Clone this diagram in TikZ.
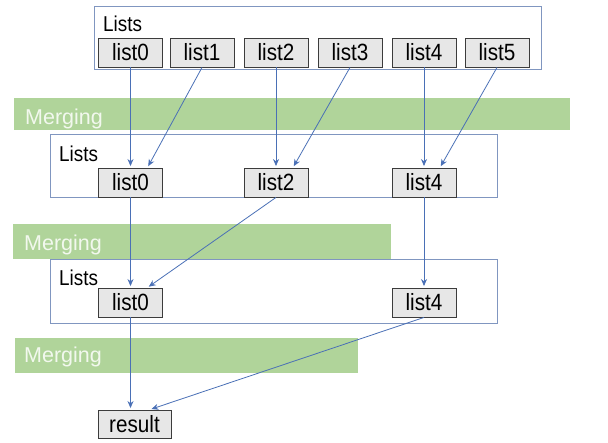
\documentclass[tikz,border=0pt]{standalone}
\usepackage{fontspec}
\setmainfont{Liberation Sans}
\newfontfamily\condfont[FakeStretch=0.88]{Liberation Sans}
\usetikzlibrary{arrows.meta,calc}
\definecolor{barGreen}{RGB}{176,212,154}
\definecolor{frameBlue}{RGB}{128,150,192}
\definecolor{arrowBlue}{RGB}{74,112,182}
\definecolor{boxFill}{RGB}{231,231,231}
\definecolor{boxLine}{RGB}{60,60,60}
\definecolor{mergeText}{RGB}{242,248,238}
\tikzset{
  listbox/.style={draw=boxLine, fill=boxFill, line width=0.9pt, minimum width=64pt, minimum height=29pt, inner sep=0pt, font=\condfont\fontsize{23.5}{26}\selectfont},
  frame/.style={draw=frameBlue, line width=1pt},
  bar/.style={fill=barGreen, draw=none},
  barlabel/.style={anchor=base west, inner sep=0pt, text=mergeText, font=\fontsize{21.5}{24}\selectfont},
  listslabel/.style={anchor=base west, inner sep=0pt, font=\condfont\fontsize{21.5}{24}\selectfont},
  conn/.style={draw=arrowBlue, line width=0.8pt, -{Stealth[length=7pt,width=6pt]}, shorten >=1.5pt}
}
\begin{document}
\begin{tikzpicture}[x=1pt,y=-1pt]
\useasboundingbox (0,0) rectangle (608,443);
% green bars
\fill[bar] (14,98) rectangle (570,130);
\fill[bar] (13,224) rectangle (391,259);
\fill[bar] (15,338) rectangle (358,373);
\node[barlabel] (m1) at (25,125) {Merging};
\node[barlabel] (m2) at (24,251) {Merging};
\node[barlabel] (m3) at (24,363) {Merging};
% frames
\draw[frame] (94,7) rectangle (541,70);
\draw[frame] (50,135) rectangle (497,198);
\draw[frame] (50,260) rectangle (497,324);
\node[listslabel] (t1) at (103,32) {Lists};
\node[listslabel] (t2) at (59,162) {Lists};
\node[listslabel] (t3) at (59,286) {Lists};
% top row
\node[listbox] (a0) at (130.5,52.5) {list0};
\node[listbox] (a1) at (202,52.5) {list1};
\node[listbox] (a2) at (276,52.5) {list2};
\node[listbox] (a3) at (350,52.5) {list3};
\node[listbox] (a4) at (424,52.5) {list4};
\node[listbox] (a5) at (497,52.5) {list5};
% second row
\node[listbox] (b0) at (130.5,182.5) {list0};
\node[listbox] (b2) at (276,182.5) {list2};
\node[listbox] (b4) at (424,182.5) {list4};
% third row
\node[listbox] (c0) at (130.5,302.5) {list0};
\node[listbox] (c4) at (424,302.5) {list4};
% result
\node[listbox, minimum width=73pt, minimum height=28pt] (r) at (134.5,424) {result};
% connectors
\draw[conn] (a0.south) -- (b0.north);
\draw[conn] (a1.south) -- ([xshift=17pt]b0.north);
\draw[conn] (a2.south) -- (b2.north);
\draw[conn] (a3.south) -- ([xshift=17pt]b2.north);
\draw[conn] (a4.south) -- (b4.north);
\draw[conn] (a5.south) -- ([xshift=16pt]b4.north);
\draw[conn] (b0.south) -- (c0.north);
\draw[conn] (b2.south) -- ([xshift=17pt]c0.north);
\draw[conn] (b4.south) -- (c4.north);
\draw[conn] (c0.south) -- (c0.south |- r.north);
\draw[conn] (c4.south) -- ([xshift=15.5pt]r.north);
\end{tikzpicture}
\end{document}
